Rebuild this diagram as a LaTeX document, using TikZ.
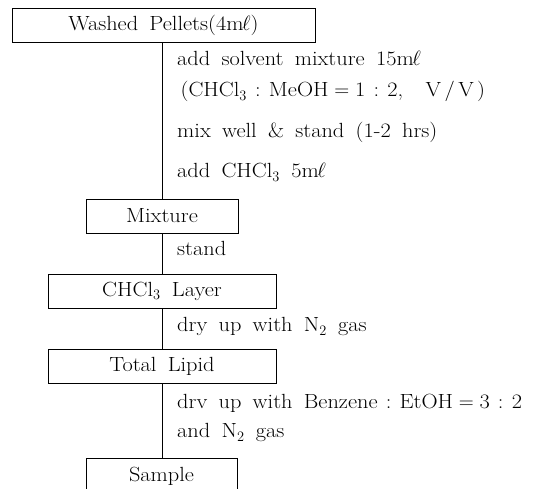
\documentclass[tikz,border=0pt]{standalone}
\usepackage{amssymb}
\usepackage{amsmath}
\usepackage{fontspec}
\setmainfont{Latin Modern Roman}[FakeStretch=1.09]
\usepackage{tikz}
\usetikzlibrary{shapes,arrows,positioning}
\newcommand{\ml}{\ensuremath{\mathrm{m}\ell}}
\newcommand{\jcolon}{\hspace{0.4em}:\hspace{0.4em}}
\newcommand{\jeq}{\ensuremath{\mskip5mu=\mskip5mu}}
\newcommand{\wsp}{\spaceskip=0.55em plus 0.1em minus 0.1em\relax}
\tikzstyle{stagebox} = [draw,rectangle,line width=0.9pt,minimum height=34pt,inner sep=0pt,font=\fontsize{20.5}{24}\selectfont\wsp]
\tikzstyle{steptext} = [anchor=base west,inner sep=0pt,font=\fontsize{20.5}{24}\selectfont\wsp]
\tikzstyle{flow} = [line width=0.8pt]

\begin{document}
\begin{tikzpicture}[x=1pt,y=-1pt]

        \useasboundingbox (0,0) rectangle (539,489);
        \clip (0,0) rectangle (539,489);

        % Stages of the lipid extraction
        \node[stagebox,minimum width=303pt] (pellets) at (163.5,25.5) {Washed Pellets(4\ml)};
        \node[stagebox,minimum width=152pt] (mixture) at (162,216) {Mixture};
        \node[stagebox,minimum width=228pt] (layer) at (162,291) {CHCl$_3$ Layer};
        \node[stagebox,minimum width=228pt] (lipid) at (162,366) {Total Lipid};
        % Sample box runs off the bottom edge
        \node[stagebox,minimum width=151pt,minimum height=62pt,text depth=29pt] (sample) at (161.5,489) {Sample};

        % Vertical flow line between the stages
        \draw[flow] (mixture.north |- pellets.south) -- (mixture.north);	% pellets -> mixture
        \draw[flow] (mixture.south) -- (layer.north);						% mixture -> layer
        \draw[flow] (layer.south) -- (lipid.north);							% layer -> lipid
        \draw[flow] (lipid.south) -- (lipid.south |- sample.north);			% lipid -> sample

        % Treatment steps beside the line
        \node[steptext] (addsolv) at (177,66) {add solvent mixture 15\ml};
        \node[steptext] (ratio) at (177,97) {\,(CHCl$_3$\jcolon MeOH\jeq 1\jcolon 2,\ \ V\,/\,V\,)};
        \node[steptext] (mixwell) at (177,138) {mix well \& stand (1-2 hrs)};
        \node[steptext] (addchcl) at (177,178) {add CHCl$_3$ 5\ml};
        \node[steptext] (stand) at (177,256) {stand};
        \node[steptext] (dryup) at (177,332) {dry up with N$_2$ gas};
        \node[steptext] (drvup) at (177,409) {drv up with Benzene\jcolon EtOH\jeq 3\jcolon 2};
        \node[steptext] (andgas) at (177,438) {and N$_2$ gas};

\end{tikzpicture}
\end{document}
